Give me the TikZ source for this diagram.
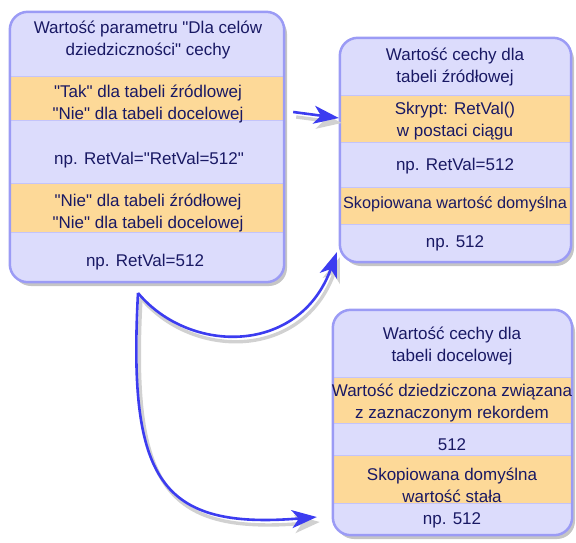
\documentclass[tikz,border=0pt]{standalone}
\usepackage{fontspec}
\newfontfamily\arialish{Liberation Sans}
\usetikzlibrary{arrows.meta,shadows}
\definecolor{boxfill}{RGB}{220,220,252}
\definecolor{rimblue}{RGB}{155,155,245}
\definecolor{bandorange}{RGB}{253,217,152}
\definecolor{bandedge}{RGB}{196,196,250}
\definecolor{textnavy}{RGB}{25,25,100}
\definecolor{arrowblue}{RGB}{60,60,240}

\begin{document}
\begin{tikzpicture}[x=1pt,y=-1pt,font=\arialish\fontsize{17}{22}\selectfont,
  box/.style={rounded corners=18pt,fill=boxfill,inner sep=0pt,
    drop shadow={shadow xshift=3pt,shadow yshift=-4pt,fill=black!45,opacity=.5}},
  rim/.style={draw=rimblue,line width=2.5pt,rounded corners=18pt},
  band/.style={fill=bandorange,draw=bandedge,line width=1pt},
  txt/.style={text=textnavy,align=center,inner sep=0pt},
  flow/.style={draw=arrowblue,line width=2.6pt,
    -{Stealth[length=25pt,width=18pt,inset=7pt]}},
  flowshade/.style={flow,draw=black!18,line width=3.4pt,transform canvas={xshift=3pt,yshift=-5pt}}]
\useasboundingbox (0,0) rectangle (576,542);

% the three boxes
\node[box,minimum width=274pt,minimum height=270pt] (p) at (147,147) {};
\node[box,minimum width=231pt,minimum height=224pt] (s) at (455.5,150) {};
\node[box,minimum width=239pt,minimum height=225pt] (d) at (452.5,422.5) {};

\fill[band] (p.west |- 0,76) rectangle (p.east |- 0,120);
\fill[band] (p.west |- 0,183) rectangle (p.east |- 0,232);
\fill[band] (s.west |- 0,95) rectangle (s.east |- 0,142);
\fill[band] (s.west |- 0,187) rectangle (s.east |- 0,224);
\fill[band] (d.west |- 0,377) rectangle (d.east |- 0,423);
\fill[band] (d.west |- 0,455) rectangle (d.east |- 0,503);

\draw[rim] (p.north west) rectangle (p.south east);
\draw[rim] (s.north west) rectangle (s.south east);
\draw[rim] (d.north west) rectangle (d.south east);

% left box
\node[txt] (p1) at (148,40) {Wartość parametru "Dla celów\\dziedziczności" cechy};
\node[txt] (p2) at (148,104) {"Tak" dla tabeli źródlowej\\"Nie" dla tabeli docelowej};
\node[txt] (p3) at (149,160) {np. RetVal="RetVal=512"};
\node[txt] (p4) at (148,213) {"Nie" dla tabeli źródłowej\\"Nie" dla tabeli docelowej};
\node[txt] (p5) at (145,262) {np. RetVal=512};

% upper right box
\node[txt] (s1) at (455,67) {Wartość cechy dla\\tabeli źródłowej};
\node[txt] (s2) at (455,121) {Skrypt: RetVal()\\w postaci ciągu};
\node[txt] (s3) at (455,166) {np. RetVal=512};
\node[txt,font=\arialish\fontsize{16.3}{22}\selectfont] (s4) at (455,204) {Skopiowana wartość domyślna};
\node[txt] (s5) at (455,243) {np. 512};

% lower right box
\node[txt] (d1) at (452,346) {Wartość cechy dla\\tabeli docelowej};
\node[txt] (d2) at (452,403) {Wartość dziedziczona związana\\z zaznaczonym rekordem};
\node[txt] (d3) at (452,445) {512};
\node[txt] (d4) at (452,485) {Skopiowana domyślna\\wartość stała};
\node[txt] (d5) at (452,520) {np. 512};

% arrows (shadow first)
\coordinate (fork) at (138,293);
\foreach \look in {flowshade,flow} {
  \draw[\look] ([xshift=9pt,yshift=35pt]p.east) -- ([xshift=-1pt,yshift=32pt]s.west);
  \draw[\look] (fork) .. controls (190,355) and (300,355) .. ([xshift=-3pt,yshift=10pt]s.south west);
  \draw[\look] (fork) .. controls (128,480) and (160,530) .. ([xshift=-16pt,yshift=-94.5pt]d.west);
}
\end{tikzpicture}
\end{document}
